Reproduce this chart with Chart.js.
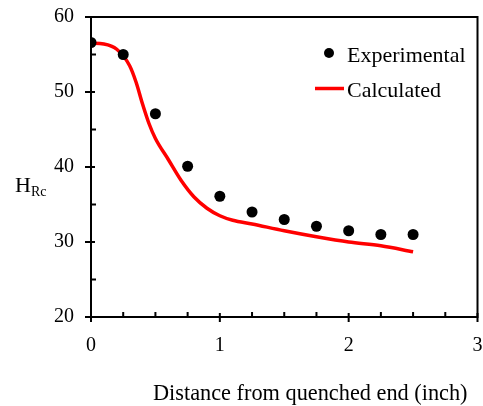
<!DOCTYPE html>
<html lang="en">
  <head>
    <meta charset="UTF-8" />
    <title>Jominy hardness</title>
    <script src="https://cdn.jsdelivr.net/npm/chart.js"></script>
    <style>
      html, body { margin: 0; padding: 0; background: #fff; }
      #wrap { width: 483px; height: 406px; }
    </style>
  </head>
  <body>
    <div id="wrap"><canvas id="myChart" width="483" height="406"></canvas></div>
    <script>
      // experimental hardness readings (distance in inch, HRc)
      const expX = [0, 0.25, 0.5, 0.75, 1.0, 1.25, 1.5, 1.75, 2.0, 2.25, 2.5];
      const expY = [56.6, 55.0, 47.1, 40.1, 36.1, 34.0, 33.0, 32.1, 31.5, 31.0, 31.0];

      // calculated curve
      const calcX = [0, 0.1, 0.2, 0.3, 0.35, 0.4, 0.45, 0.5, 0.6, 0.7, 0.8, 0.9, 1.0, 1.1, 1.25, 1.5, 1.75, 2.0, 2.25, 2.5];
      const calcY = [56.5, 56.4, 55.7, 53.5, 51.3, 48.4, 45.8, 43.8, 41.0, 38.2, 36.0, 34.5, 33.5, 32.9, 32.4, 31.5, 30.7, 30.0, 29.5, 28.7];

      const xLabels = ["0", "1", "2", "3"];
      const yLabels = ["20", "30", "40", "50", "60"];

      const serif = "'Liberation Serif', 'Times New Roman', serif";

      // drop the automatic label overhang so the plot box lands where it should
      function noPad(s) {
        s.paddingTop = 0;
        s.paddingBottom = 0;
        s.paddingLeft = 0;
        s.paddingRight = 0;
      }

      const framePlugin = {
        id: "frame",
        afterDraw(chart) {
          const { ctx, chartArea: a, scales } = chart;
          const xs = scales.x, ys = scales.y;
          ctx.save();
          ctx.strokeStyle = "#000";
          ctx.lineWidth = 2;
          ctx.strokeRect(a.left, a.top, a.right - a.left, a.bottom - a.top);

          ctx.beginPath();
          xs.ticks.forEach((t) => {
            const px = xs.getPixelForValue(t.value);
            const major = Math.abs(t.value - Math.round(t.value)) < 1e-6;
            ctx.moveTo(px, a.bottom + (major ? 5 : 0));
            ctx.lineTo(px, a.bottom - (major ? 4 : 5));
          });
          ys.ticks.forEach((t) => {
            const py = ys.getPixelForValue(t.value);
            const major = t.value % 10 === 0;
            ctx.moveTo(a.left - (major ? 6 : 0), py);
            ctx.lineTo(a.left + (major ? 4 : 5), py);
          });
          ctx.stroke();

          // legend
          const exp = chart.data.datasets[0];
          const calc = chart.data.datasets[1];
          ctx.fillStyle = exp.pointBackgroundColor;
          ctx.beginPath();
          ctx.arc(329, 53, 5, 0, Math.PI * 2);
          ctx.fill();
          ctx.strokeStyle = calc.borderColor;
          ctx.lineWidth = 3.5;
          ctx.beginPath();
          ctx.moveTo(315, 88.5);
          ctx.lineTo(344, 88.5);
          ctx.stroke();

          ctx.fillStyle = "#000";
          ctx.textBaseline = "alphabetic";
          ctx.textAlign = "left";
          ctx.font = "22px " + serif;
          ctx.fillText(exp.label, 347, 61.5);
          ctx.fillText(calc.label, 347, 96.5);

          // axis titles
          ctx.font = "22.3px " + serif;
          ctx.fillText("Distance from quenched end (inch)", 153, 400);
          ctx.font = "22px " + serif;
          ctx.fillText("H", 15, 192);
          ctx.font = "14px " + serif;
          ctx.fillText("Rc", 31, 196);
          ctx.restore();
        },
      };

      new Chart(document.getElementById("myChart"), {
        type: "scatter",
        data: {
          datasets: [
            {
              label: "Experimental",
              data: expX.map((x, i) => ({ x: x, y: expY[i] })),
              pointRadius: 5.5,
              pointBackgroundColor: "#000",
              pointBorderWidth: 0,
              showLine: false,
            },
            {
              label: "Calculated",
              data: calcX.map((x, i) => ({ x: x, y: calcY[i] })),
              showLine: true,
              borderColor: "#ff0000",
              borderWidth: 3.5,
              pointRadius: 0,
              cubicInterpolationMode: "monotone",
            },
          ],
        },
        options: {
          responsive: false,
          animation: false,
          events: [],
          layout: { padding: { top: 17, right: 5, left: 0, bottom: 0 } },
          plugins: { legend: { display: false }, tooltip: { enabled: false } },
          scales: {
            x: {
              type: "linear",
              min: 0,
              max: 3,
              afterFit: (s) => { s.height = 89; noPad(s); },
              grid: { display: false, drawTicks: false },
              border: { display: false },
              ticks: {
                stepSize: 0.25,
                autoSkip: false,
                maxRotation: 0,
                padding: 17,
                color: "#000",
                font: { family: serif, size: 20 },
                callback: (v) => (xLabels.includes(String(v)) ? String(v) : ""),
              },
            },
            y: {
              min: 20,
              max: 60,
              afterFit: (s) => { s.width = 91; noPad(s); },
              grid: { display: false, drawTicks: false },
              border: { display: false },
              ticks: {
                stepSize: 5,
                autoSkip: false,
                padding: 17,
                color: "#000",
                font: { family: serif, size: 20 },
                callback: (v) => (yLabels.includes(String(v)) ? String(v) : ""),
              },
            },
          },
        },
        plugins: [framePlugin],
      });
    </script>
  </body>
</html>
